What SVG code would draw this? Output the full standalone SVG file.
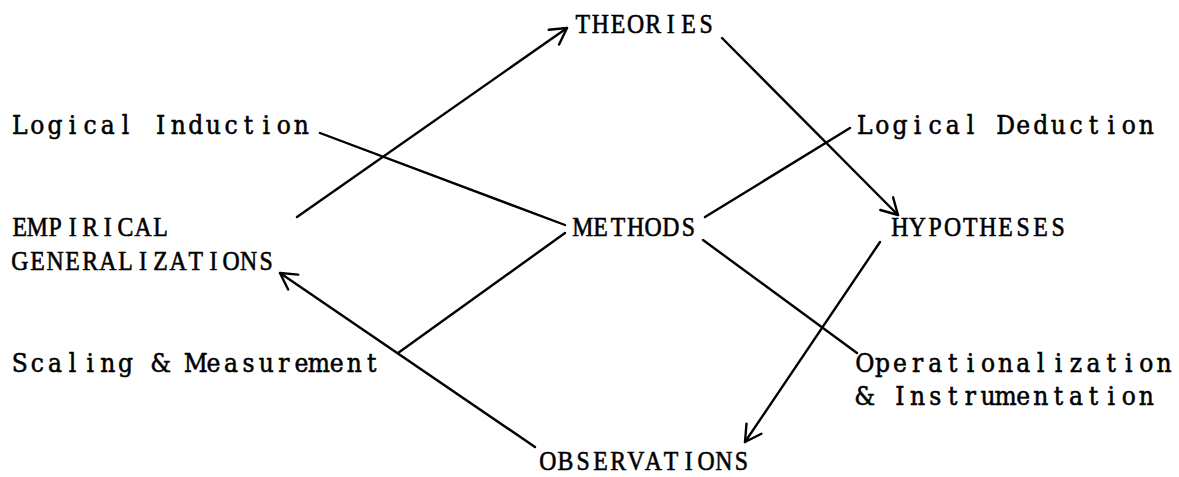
<svg xmlns="http://www.w3.org/2000/svg" width="1179" height="477" viewBox="0 0 1179 477">
<style>
  .t { font-family: "Liberation Serif", "Times New Roman", serif; font-size: 27px; fill: #000; stroke: #000; stroke-width: 0.6px; text-anchor: middle; }
  .m { font-family: "DejaVu Serif", "Liberation Serif", serif; font-size: 25.5px; fill: #000; stroke: #000; stroke-width: 0.55px; text-anchor: middle; }
  .c { fill: none; stroke: #000; stroke-width: 2.4; stroke-linecap: round; }
</style>
<defs>
  <marker id="ah" markerUnits="userSpaceOnUse" markerWidth="40" markerHeight="40" viewBox="-20 -20 40 40" refX="0" refY="0" orient="auto" overflow="visible">
    <path d="M-16,-9 L0,0 L-16,9" fill="none" stroke="#000" stroke-width="2.4" stroke-linecap="round" stroke-linejoin="round"/>
  </marker>
</defs>
<rect width="1179" height="477" fill="#fff"/>
<g id="connectors">
  <line class="c" x1="297" y1="217" x2="567" y2="28" marker-end="url(#ah)"/>
  <line class="c" x1="722" y1="38" x2="898" y2="215" marker-end="url(#ah)"/>
  <line class="c" x1="320" y1="133" x2="565" y2="225"/>
  <line class="c" x1="850" y1="128" x2="705" y2="217"/>
  <line class="c" x1="565" y1="233" x2="398" y2="353"/>
  <line class="c" x1="703" y1="240" x2="857" y2="353"/>
  <line class="c" x1="880" y1="242" x2="745" y2="442" marker-end="url(#ah)"/>
  <line class="c" x1="535" y1="447" x2="280" y2="273" marker-end="url(#ah)"/>
</g>
<g id="theories"><text class="t" transform="translate(574 33) scale(0.88 1)" x="10 30 50 70 90 110 130 150">THEORIES</text></g>
<g id="logical-induction"><text class="m" transform="translate(11 134) scale(0.92 1)" x="9.57 28.7 47.83 66.96 86.09 105.22 124.35 143.48 162.61 181.74 200.87 220 239.13 258.26 277.39 296.52 315.65">Logical Induction</text></g>
<g id="logical-deduction"><text class="m" transform="translate(856 134) scale(0.92 1)" x="9.57 28.7 47.83 66.96 86.09 105.22 124.35 143.48 162.61 181.74 200.87 220 239.13 258.26 277.39 296.52 315.65">Logical Deduction</text></g>
<g id="empirical-generalizations">
  <text class="t" transform="translate(11 236) scale(0.88 1)" x="10 30 50 70 90 110 130 150 170">EMPIRICAL</text>
  <text class="t" transform="translate(11 270) scale(0.88 1)" x="10 30 50 70 90 110 130 150 170 190 210 230 250 270 290">GENERALIZATIONS</text>
</g>
<g id="methods"><text class="t" transform="translate(574 236) scale(0.88 1)" x="10 30 50 70 90 110 130">METHODS</text></g>
<g id="hypotheses"><text class="t" transform="translate(891 236) scale(0.88 1)" x="10 30 50 70 90 110 130 150 170 190">HYPOTHESES</text></g>
<g id="scaling-measurement"><text class="m" transform="translate(11 372) scale(0.92 1)" x="9.57 28.7 47.83 66.96 86.09 105.22 124.35 143.48 162.61 181.74 200.87 220 239.13 258.26 277.39 296.52 315.65 334.78 353.91 373.04 392.17">Scaling &amp; Measurement</text></g>
<g id="operationalization-instrumentation">
  <text class="m" transform="translate(856 372) scale(0.92 1)" x="9.57 28.7 47.83 66.96 86.09 105.22 124.35 143.48 162.61 181.74 200.87 220 239.13 258.26 277.39 296.52 315.65 334.78">Operationalization</text>
  <text class="m" transform="translate(856 405) scale(0.92 1)" x="9.57 28.7 47.83 66.96 86.09 105.22 124.35 143.48 162.61 181.74 200.87 220 239.13 258.26 277.39 296.52 315.65">&amp; Instrumentation</text>
</g>
<g id="observations"><text class="t" transform="translate(539 470) scale(0.88 1)" x="10 30 50 70 90 110 130 150 170 190 210 230">OBSERVATIONS</text></g>
</svg>
